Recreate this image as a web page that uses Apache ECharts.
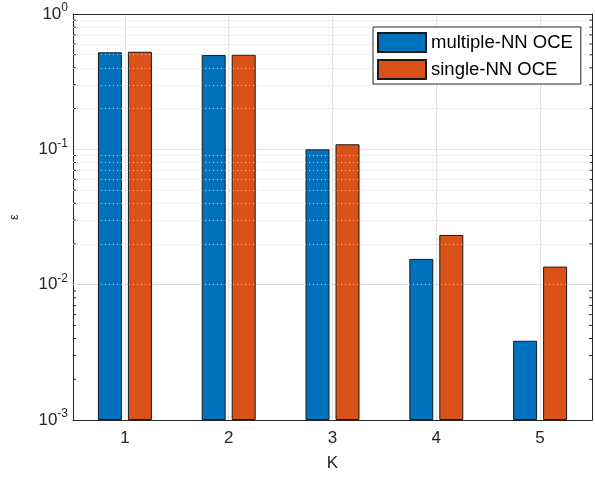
<!DOCTYPE html>
<html lang="en">

<head>
    <meta charset="UTF-8">
    <title>Document</title>
    <style>
        body {
            margin: 0;
        }

        #chart {
            width: 595px;
            height: 477px;
        }
    </style>
</head>

<body>
    <div id="chart"></div>
    <script src="https://cdn.jsdelivr.net/npm/echarts@6/dist/echarts.min.js"></script>
    <script>
        const categories = ['1', '2', '3', '4', '5'];
        const multipleNN = [0.521, 0.497, 0.100, 0.0155, 0.00385];
        const singleNN = [0.526, 0.500, 0.109, 0.0233, 0.0136];
        const minorGrid = [
            0.002, 0.003, 0.004, 0.005, 0.006, 0.007, 0.008, 0.009,
            0.02, 0.03, 0.04, 0.05, 0.06, 0.07, 0.08, 0.09,
            0.2, 0.3, 0.4, 0.5, 0.6, 0.7, 0.8, 0.9
        ];

        const txt = '#262626';
        const font = 'Liberation Sans';

        const chart = echarts.init(document.getElementById('chart'));

        function powLabel (v) {
            const e = Math.round(Math.log10(v));
            return '{b|10}{s|' + e + '}';
        }

        const option = {
            animation: false,
            textStyle: { fontFamily: font },
            grid: { left: 73, right: 3, top: 14, bottom: 57 },
            legend: {
                z: 20,
                orient: 'vertical',
                left: 373,
                top: 27,
                padding: [5, 8, 4, 4],
                itemWidth: 48,
                itemHeight: 19,
                itemGap: 6,
                icon: 'rect',
                backgroundColor: '#fff',
                borderColor: '#262626',
                borderWidth: 1,
                borderRadius: 0,
                data: ['multiple-NN OCE', 'single-NN OCE'],
                textStyle: { fontSize: 18.5, color: '#000', fontFamily: font }
            },
            xAxis: [
                {
                    type: 'category',
                    data: categories,
                    name: 'K',
                    nameLocation: 'middle',
                    nameGap: 35,
                    nameTextStyle: { fontSize: 17, color: txt, fontFamily: font },
                    axisLine: { lineStyle: { color: txt } },
                    axisTick: { inside: true, alignWithLabel: true, length: 5, lineStyle: { color: txt } },
                    axisLabel: { fontSize: 17, color: txt, margin: 10, fontFamily: font },
                    splitLine: { show: true, alignWithLabel: true, lineStyle: { color: '#e3e3e3' } }
                },
                {
                    type: 'category',
                    data: categories,
                    position: 'top',
                    axisLine: { lineStyle: { color: txt } },
                    axisTick: { inside: true, alignWithLabel: true, length: 5, lineStyle: { color: txt } },
                    axisLabel: { show: false },
                    splitLine: { show: false }
                }
            ],
            yAxis: [
                {
                    type: 'log',
                    logBase: 10,
                    min: 0.001,
                    max: 1,
                    startValue: 0.001,
                    name: 'ε',
                    nameLocation: 'middle',
                    nameGap: 52,
                    nameTextStyle: { fontSize: 13, color: txt, fontFamily: font },
                    axisLine: { show: true, lineStyle: { color: txt } },
                    axisTick: { inside: true, length: 5, lineStyle: { color: txt } },
                    axisLabel: {
                        margin: 5,
                        formatter: powLabel,
                        rich: {
                            b: { fontSize: 17, color: txt, fontFamily: font, lineHeight: 24 },
                            s: { fontSize: 12, color: txt, fontFamily: font, verticalAlign: 'top' }
                        }
                    },
                    splitLine: { show: true, lineStyle: { color: '#e3e3e3' } }
                },
                {
                    type: 'log',
                    logBase: 10,
                    min: 0.001,
                    max: 1,
                    position: 'right',
                    axisLine: { show: true, lineStyle: { color: txt } },
                    axisTick: { inside: true, length: 5, lineStyle: { color: txt } },
                    axisLabel: { show: false },
                    splitLine: { show: false }
                }
            ],
            series: [
                {
                    name: 'grid',
                    type: 'line',
                    data: [],
                    z: 0,
                    silent: true,
                    markLine: {
                        silent: true,
                        symbol: 'none',
                        label: { show: false },
                        lineStyle: { type: [1, 3], color: '#d0d0d0', width: 1 },
                        data: minorGrid.map(v => ({ yAxis: v }))
                    }
                },
                {
                    name: 'multiple-NN OCE',
                    type: 'bar',
                    data: multipleNN,
                    barWidth: 24,
                    barGap: '25%',
                    z: 3,
                    itemStyle: { color: '#0072BD', borderColor: '#1a1a1a', borderWidth: 1 }
                },
                {
                    name: 'single-NN OCE',
                    type: 'bar',
                    data: singleNN,
                    barWidth: 24,
                    barGap: '25%',
                    z: 3,
                    itemStyle: { color: '#D95319', borderColor: '#1a1a1a', borderWidth: 1 }
                }
            ]
        };

        chart.setOption(option);

        // small minor ticks on the left and right axes
        const left = 73, right = 592;
        const ticks = [];
        minorGrid.forEach(v => {
            const y = chart.convertToPixel({ yAxisIndex: 0 }, v);
            ticks.push({ type: 'line', shape: { x1: left, y1: y, x2: left + 3, y2: y }, style: { stroke: txt, lineWidth: 1 }, silent: true });
            ticks.push({ type: 'line', shape: { x1: right - 3, y1: y, x2: right, y2: y }, style: { stroke: txt, lineWidth: 1 }, silent: true });
        });
        chart.setOption({ graphic: ticks });
    </script>
</body>

</html>
